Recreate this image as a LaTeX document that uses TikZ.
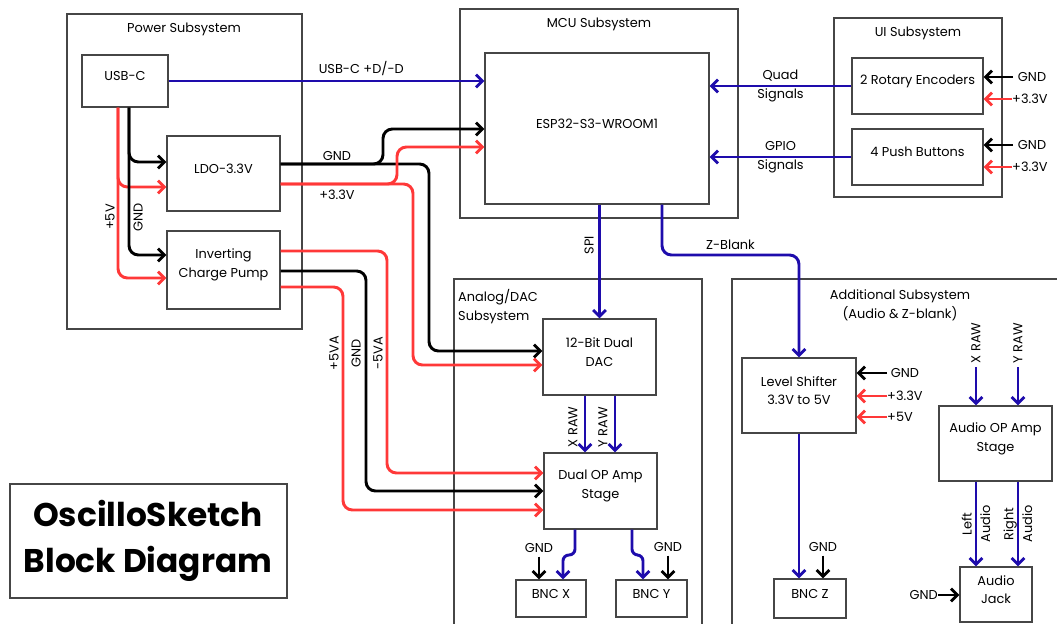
\documentclass[tikz,border=0pt]{standalone}
\usepackage{fontspec}
\setmainfont{Poppins}
\usepackage{tikz}
\usetikzlibrary{arrows.meta,fit,calc}
\definecolor{sigblue}{RGB}{30,12,172}
\definecolor{pwrred}{RGB}{255,56,56}
\definecolor{boxgray}{RGB}{70,70,70}

\begin{document}
\begin{tikzpicture}[x=0.03cm, y=-0.03cm, >={Straight Barb[length=5.5pt,width=11pt]},
    font=\fontsize{11}{16}\selectfont,
    blk/.style={draw=boxgray, line width=0.9pt, inner sep=0pt, align=center},
    grp/.style={draw=boxgray, line width=0.9pt},
    lbl/.style={inner sep=0pt, align=center},
    sig/.style={->, draw=sigblue, line width=2.5pt, rounded corners=8pt},
    gnd/.style={->, draw=black, line width=2.5pt, rounded corners=8pt},
    vcc/.style={->, draw=pwrred, line width=2.5pt, rounded corners=8pt}]
    \useasboundingbox (0,0) rectangle (1057,624);
    \clip (0,0) rectangle (1057,624);

    % Power subsystem
    \draw[grp] (67,14) rectangle (302,329);
    \node (pwrT) at (184,29) {Power Subsystem};
    \node[blk, fit={(82,55)(168,107)}] (usb) {USB-C};
    \node[blk, fit={(167,136)(280,211)}] (ldo) {LDO-3.3V};
    \node[blk, fit={(167,231)(280,309)}] (pump) {Inverting\\Charge Pump};

    % MCU subsystem
    \draw[grp] (460,9) rectangle (738,218);
    \node (mcuT) at (599,24) {MCU Subsystem};
    \node[blk, fit={(485,53)(709,204)}] (esp) {ESP32-S3-WROOM1};

    % UI subsystem
    \draw[grp] (834,18) rectangle (1002,197);
    \node (uiT) at (918,33) {UI Subsystem};
    \node[blk, fit={(852,58)(983,114)}] (enc) {2 Rotary Encoders};
    \node[blk, fit={(852,129)(983,185)}] (btn) {4 Push Buttons};

    % Analog/DAC subsystem
    \draw[grp] (454,279) rectangle (702,640);
    \node[lbl, anchor=north west, align=left] (anaT) at (458,289) {Analog/DAC\\Subsystem};
    \node[blk, fit={(543,319)(656,395)}] (dac) {12-Bit Dual\\DAC};
    \node[blk, fit={(544,453)(657,529)}] (opamp) {Dual OP Amp\\Stage};
    \node[blk, fit={(516,580)(586,617)}] (bncx) {BNC X};
    \node[blk, fit={(616,580)(687,617)}] (bncy) {BNC Y};

    % Additional subsystem
    \draw[grp] (732,279) rectangle (1070,640);
    \node[align=center] (addT) at (900,305) {Additional Subsystem\\(Audio \& Z-blank)};
    \node[blk, fit={(742,358)(856,433)}] (shift) {Level Shifter\\3.3V to 5V};
    \node[blk, fit={(774,579)(846,618)}] (bncz) {BNC Z};
    \node[blk, fit={(939,406)(1052,481)}] (aamp) {Audio OP Amp\\Stage};
    \node[blk, fit={(960,567)(1032,622)}] (jack) {Audio\\Jack};

    % Title
    \node[blk, line width=1pt, fit={(10,484)(287,598)}] (titleBox) {};
    \node[align=center, font=\fontsize{28}{39}\selectfont\bfseries] (title) at (148,541) {OscilloSketch\\Block Diagram};

    % USB-C feeds
    \draw[vcc] (usb.south -| 118,0) |- (ldo.west |- 0,187);
    \draw[vcc] (usb.south -| 118,0) |- (pump.west |- 0,278);
    \draw[gnd] (usb.south -| 129,0) |- (ldo.west |- 0,162);
    \draw[gnd] (usb.south -| 129,0) |- (pump.west |- 0,255);
    \node[rotate=90] (usbVl) at (110,217) {+5V};
    \node[rotate=90] (usbGl) at (138,217) {GND};
    \draw[sig] (usb.east) -- (usb.east -| esp.west) node[above, pos=.61] (usbD) {USB-C +D/-D};

    % LDO rails
    \draw[gnd] (ldo.east |- 0,164) -| (383,129) -- (esp.west |- 0,129);
    \draw[gnd] (ldo.east |- 0,164) -| (429,351) -- (dac.west |- 0,351);
    \draw[vcc] (ldo.east |- 0,184) -| (397,147) -- (esp.west |- 0,147);
    \draw[vcc] (ldo.east |- 0,184) -| (413,365) -- (dac.west |- 0,365);
    \node (ldoGl) at (337,156) {GND};
    \node (ldoVl) at (337,195) {+3.3V};

    % Charge pump rails
    \draw[vcc] (pump.east |- 0,251) -| (387,473) -- (opamp.west |- 0,473);
    \draw[gnd] (pump.east |- 0,271) -| (366,491) -- (opamp.west |- 0,491);
    \draw[vcc] (pump.east |- 0,287) -| (343,510) -- (opamp.west |- 0,510);
    \node[rotate=90] (pVl) at (334,353) {+5VA};
    \node[rotate=90] (pGl) at (356,353) {GND};
    \node[rotate=90] (pNl) at (378,353) {-5VA};

    % MCU outputs
    \draw[sig] (esp.south -| dac.north) -- (dac.north);
    \node[rotate=90] (spiL) at (589,245) {SPI};
    \draw[sig] (esp.south -| 662,0) -- (662,255) -| (shift.north) node[pos=.25, above] (zL) {Z-Blank};

    % UI signals
    \draw[sig] (enc.west) -- (enc.west -| esp.east) node[midway, lbl] (quadL) {Quad\\Signals};
    \draw[sig] (btn.west) -- (btn.west -| esp.east) node[midway, lbl] (gpioL) {GPIO\\Signals};
    \node[lbl, anchor=west, inner xsep=4pt] (egL) at (1013,77) {GND};
    \node[lbl, anchor=west] (evL) at (1012,99) {+3.3V};
    \node[lbl, anchor=west, inner xsep=4pt] (bgL) at (1013,145) {GND};
    \node[lbl, anchor=west] (bvL) at (1012,167) {+3.3V};
    \draw[gnd] (egL.west) -- (egL.west -| enc.east);
    \draw[vcc] (evL.west) -- (evL.west -| enc.east);
    \draw[gnd] (bgL.west) -- (bgL.west -| btn.east);
    \draw[vcc] (bvL.west) -- (bvL.west -| btn.east);

    % DAC to op amp to BNC
    \draw[sig] (dac.south -| 585,0) -- (opamp.north -| 585,0);
    \draw[sig] (dac.south -| 615,0) -- (opamp.north -| 615,0);
    \node[rotate=90] (xRl) at (573,427) {X RAW};
    \node[rotate=90] (yRl) at (603,427) {Y RAW};
    \draw[sig, rounded corners=5pt] (opamp.south -| 575,0) -- (575,555) -- (563,555) -- (bncx.north -| 563,0);
    \draw[sig, rounded corners=5pt] (opamp.south -| 632,0) -- (632,555) -- (643,555) -- (bncy.north -| 643,0);
    \node (gxL) at (539,548) {GND};
    \node (gyL) at (668,547) {GND};
    \draw[gnd] (gxL.south) -- (gxL.south |- bncx.north);
    \draw[gnd] (gyL.south) -- (gyL.south |- bncy.north);

    % Level shifter and BNC Z
    \node[lbl, anchor=west, inner xsep=3pt] (sgL) at (887,373) {GND};
    \node[lbl, anchor=west] (s3L) at (887,396) {+3.3V};
    \node[lbl, anchor=west] (s5L) at (887,417) {+5V};
    \draw[gnd] (sgL.west) -- (sgL.west -| shift.east);
    \draw[vcc] (s3L.west) -- (s3L.west -| shift.east);
    \draw[vcc] (s5L.west) -- (s5L.west -| shift.east);
    \draw[sig] (shift.south) -- (shift.south |- bncz.north);
    \node (gzL) at (823,547) {GND};
    \draw[gnd] (gzL.south) -- (gzL.south |- bncz.north);

    % Audio path
    \node[rotate=90] (xaL) at (976,343) {X RAW};
    \node[rotate=90] (yaL) at (1018,343) {Y RAW};
    \draw[sig] (xaL.west) -- (xaL.west |- aamp.north);
    \draw[sig] (yaL.west) -- (yaL.west |- aamp.north);
    \draw[sig] (aamp.south -| xaL) -- (jack.north -| xaL) node[midway, lbl, rotate=90] (leftL) {Left\\Audio};
    \draw[sig] (aamp.south -| yaL) -- (jack.north -| yaL) node[midway, lbl, rotate=90] (rightL) {Right\\Audio};
    \node[lbl, anchor=east] (jgL) at (938,595) {GND};
    \draw[gnd] (jgL.east) -- (jgL.east -| jack.west);
\end{tikzpicture}
\end{document}
